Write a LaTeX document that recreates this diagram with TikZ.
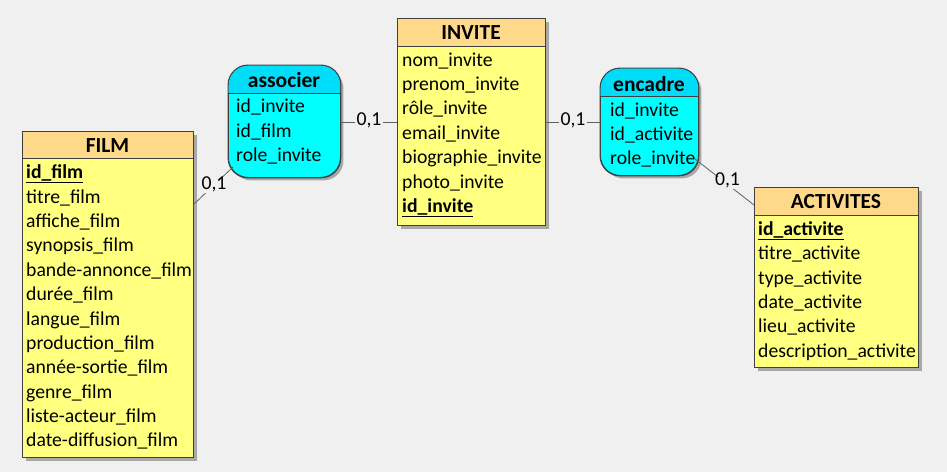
\documentclass[tikz,border=0pt]{standalone}
\usepackage{fontspec}
\setmainfont{Carlito}
\usetikzlibrary{shadows}
\definecolor{bg}{HTML}{F0F0F0}
\definecolor{enthead}{HTML}{FFD98A}
\definecolor{entbody}{HTML}{FFFF80}
\definecolor{assohead}{HTML}{00DDF8}
\definecolor{assobody}{HTML}{00FFFF}
\definecolor{border}{HTML}{404040}
\definecolor{shade}{HTML}{A8A8A8}
\definecolor{linkc}{HTML}{606060}
\tikzset{
  entbox/.style={draw=border, line width=0.9pt, fill=entbody, anchor=north west, inner sep=0pt,
    drop shadow={shadow xshift=4pt, shadow yshift=-4pt, fill=shade, opacity=1}},
  assobox/.style={draw=border, line width=0.9pt, fill=assobody, anchor=north west, inner sep=0pt,
    rounded corners=20pt,
    drop shadow={shadow xshift=3pt, shadow yshift=-3pt, fill=shade, opacity=1}},
  title/.style={font=\fontsize{21.5}{24}\selectfont\bfseries, anchor=center, inner sep=0pt, yshift=-1pt},
  attr/.style={font=\fontsize{19.7}{23}\selectfont, anchor=west, inner sep=0pt, text height=0.7em, text depth=0.2em, yshift=-3.5pt},
  card/.style={font=\fontsize{19.7}{23}\selectfont, fill=bg, inner sep=1.5pt, text height=0.7em, text depth=0.2em, yshift=-1pt},
  link/.style={draw=linkc, line width=0.8pt},
}
\begin{document}
\begin{tikzpicture}[x=1pt,y=-1pt]
\fill[bg] (0,0) rectangle (947,472);
\useasboundingbox (0,0) rectangle (947,472);

% ---------- FILM ----------
\node[entbox, minimum width=171pt, minimum height=326pt] (film) at (22,131) {};
\fill[enthead] ([xshift=0.45pt,yshift=-0.45pt]film.north west) rectangle ([xshift=-0.45pt]film.north east |- 0,158);
\draw[border, line width=0.9pt] (film.west |- 0,158) -- (film.east |- 0,158);
\draw[border, line width=0.9pt] (film.north west) rectangle (film.south east);
\node[title] (filmt) at (107.5,145) {FILM};
\node[attr] (f1) at (26,172) {\textbf{\underline{id\_film}}};
\node[attr] (f2) at (26,197) {titre\_film};
\node[attr] (f3) at (26,221) {affiche\_film};
\node[attr] (f4) at (26,245.5) {synopsis\_film};
\node[attr] (f5) at (26,270) {bande-annonce\_film};
\node[attr] (f6) at (26,294.5) {durée\_film};
\node[attr] (f7) at (26,319) {langue\_film};
\node[attr] (f8) at (26,343) {production\_film};
\node[attr] (f9) at (26,367.5) {année-sortie\_film};
\node[attr] (f10) at (26,392) {genre\_film};
\node[attr] (f11) at (26,416) {liste-acteur\_film};
\node[attr] (f12) at (26,440.5) {date-diffusion\_film};

% ---------- INVITE ----------
\node[entbox, minimum width=148pt, minimum height=207pt] (invite) at (397,18) {};
\fill[enthead] ([xshift=0.45pt,yshift=-0.45pt]invite.north west) rectangle ([xshift=-0.45pt]invite.north east |- 0,46);
\draw[border, line width=0.9pt] (invite.west |- 0,46) -- (invite.east |- 0,46);
\draw[border, line width=0.9pt] (invite.north west) rectangle (invite.south east);
\node[title] (invitet) at (471,32) {INVITE};
\node[attr] (i1) at (402,60) {nom\_invite};
\node[attr] (i2) at (402,84.5) {prenom\_invite};
\node[attr] (i3) at (402,108.5) {rôle\_invite};
\node[attr] (i4) at (402,133) {email\_invite};
\node[attr] (i5) at (402,157.5) {biographie\_invite};
\node[attr] (i6) at (402,182) {photo\_invite};
\node[attr] (i7) at (402,206) {\textbf{\underline{id\_invite}}};

% ---------- ACTIVITES ----------
\node[entbox, minimum width=164pt, minimum height=180pt] (act) at (754,187) {};
\fill[enthead] ([xshift=0.45pt,yshift=-0.45pt]act.north west) rectangle ([xshift=-0.45pt]act.north east |- 0,215);
\draw[border, line width=0.9pt] (act.west |- 0,215) -- (act.east |- 0,215);
\draw[border, line width=0.9pt] (act.north west) rectangle (act.south east);
\node[title] (actt) at (836,201) {ACTIVITES};
\node[attr] (a1) at (758,229) {\textbf{\underline{id\_activite}}};
\node[attr] (a2) at (758,253.5) {titre\_activite};
\node[attr] (a3) at (758,278) {type\_activite};
\node[attr] (a4) at (758,302) {date\_activite};
\node[attr] (a5) at (758,326.5) {lieu\_activite};
\node[attr] (a6) at (758,351) {description\_activite};

% ---------- associer ----------
\node[assobox, minimum width=112pt, minimum height=112pt] (assoc) at (228,65) {};
\begin{scope}
  \clip (220,60) rectangle (350,93);
  \fill[assohead, rounded corners=20pt] ([xshift=0.45pt,yshift=-0.45pt]assoc.north west) rectangle ([xshift=-0.45pt,yshift=0.45pt]assoc.south east);
\end{scope}
\draw[border, line width=0.9pt] (assoc.west |- 0,93) -- (assoc.east |- 0,93);
\draw[border, line width=0.9pt, rounded corners=20pt] (assoc.north west) rectangle (assoc.south east);
\node[title] (assoct) at (284,79) {associer};
\node[attr] (s1) at (236,106.5) {id\_invite};
\node[attr] (s2) at (236,131) {id\_film};
\node[attr] (s3) at (236,155.5) {role\_invite};

% ---------- encadre ----------
\node[assobox, minimum width=98pt, minimum height=107pt] (enc) at (600,68) {};
\begin{scope}
  \clip (590,60) rectangle (710,96);
  \fill[assohead, rounded corners=20pt] ([xshift=0.45pt,yshift=-0.45pt]enc.north west) rectangle ([xshift=-0.45pt,yshift=0.45pt]enc.south east);
\end{scope}
\draw[border, line width=0.9pt] (enc.west |- 0,96) -- (enc.east |- 0,96);
\draw[border, line width=0.9pt, rounded corners=20pt] (enc.north west) rectangle (enc.south east);
\node[title] (enct) at (649,83) {encadre};
\node[attr] (e1) at (610,110) {id\_invite};
\node[attr] (e2) at (610,134.5) {id\_activite};
\node[attr] (e3) at (610,158.5) {role\_invite};

% ---------- links ----------
\coordinate (p1) at (193,205);
\coordinate (q1) at (233,167);
\draw[link] (p1) -- (q1) node[card, pos=0.5, xshift=1pt] (c1) {0,1};
\draw[link] (assoc.east |- 0,122) -- (invite.west |- 0,122) node[card, pos=0.5] (c2) {0,1};
\draw[link] (invite.east |- 0,122) -- (enc.west |- 0,122) node[card, pos=0.5] (c3) {0,1};
\coordinate (p4) at (695,159);
\coordinate (q4) at (754,205);
\draw[link] (p4) -- (q4) node[card, pos=0.5, xshift=3pt] (c4) {0,1};
\end{tikzpicture}
\end{document}
